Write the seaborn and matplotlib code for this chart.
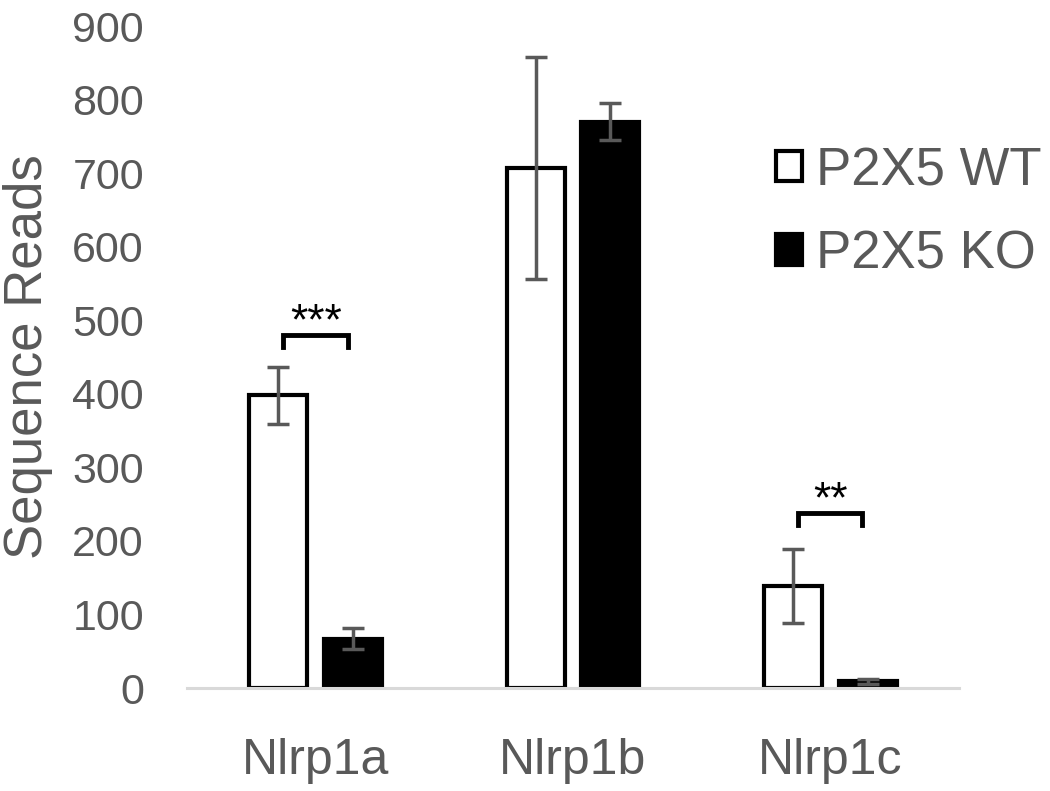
import matplotlib
matplotlib.use("Agg")
import matplotlib.pyplot as plt
import pandas as pd
import seaborn as sns

# Data
genes = ["Nlrp1a", "Nlrp1b", "Nlrp1c"]
groups = ["P2X5 WT", "P2X5 KO"]
wt_reads = [398, 707, 139]
ko_reads = [67, 770, 9]
wt_err = [39, 151, 50]
ko_err = [14, 25, 3]
y_ticks = [0, 100, 200, 300, 400, 500, 600, 700, 800, 900]

# significance brackets: (gene index, bracket height, stars)
sig_gene = [0, 2]
sig_height = [480, 238]
sig_label = ["***", "**"]

TEXT = "#595959"
plt.rcParams["font.family"] = ["Liberation Sans", "DejaVu Sans"]


def build_frame():
    rows = []
    for g, wt, ko in zip(genes, wt_reads, ko_reads):
        rows.append({"gene": g, "group": groups[0], "reads": wt})
        rows.append({"gene": g, "group": groups[1], "reads": ko})
    return pd.DataFrame(rows)


def draw_bar_plot():
    df = build_frame()

    fig = plt.figure(figsize=(10.5, 7.91), dpi=100)
    ax = fig.add_axes([187 / 1050, 1 - 688 / 791, 772 / 1050, 662 / 791])

    sns.barplot(data=df, x="gene", y="reads", hue="group", order=genes,
                hue_order=groups, palette={groups[0]: "white", groups[1]: "black"},
                edgecolor="black", linewidth=3, width=0.58, gap=0.22,
                errorbar=None, legend=False, ax=ax)

    # error bars on each bar
    for container, errs in zip(ax.containers, [wt_err, ko_err]):
        for patch, e in zip(container.patches, errs):
            xc = patch.get_x() + patch.get_width() / 2
            ax.errorbar(xc, patch.get_height(), yerr=e, color=TEXT,
                        elinewidth=2.5, capsize=8, capthick=2.5, zorder=5)

    # significance brackets
    for gi, h, lab in zip(sig_gene, sig_height, sig_label):
        x0, x1 = gi - 0.125, gi + 0.125
        ax.plot([x0, x0, x1, x1], [h - 17, h, h, h - 17], color="black",
                lw=3.5, solid_joinstyle="miter", zorder=6)
        ax.text(gi, h + 1, lab, ha="center", va="baseline",
                fontsize=32, color="black")

    ax.set_xlim(-0.5, 2.5)
    ax.set_ylim(0, 900)
    ax.set_yticks(y_ticks)
    ax.set_xlabel("")
    ax.set_ylabel("Sequence Reads", fontsize=38, color=TEXT, labelpad=14)

    for side in ["top", "right", "left"]:
        ax.spines[side].set_visible(False)
    ax.spines["bottom"].set_color("#d9d9d9")
    ax.spines["bottom"].set_linewidth(2.2)
    ax.tick_params(axis="y", length=0, pad=31, labelsize=31, labelcolor=TEXT)
    ax.tick_params(axis="x", length=0, pad=36, labelsize=36, labelcolor=TEXT)

    # legend
    handles = [plt.Rectangle((0, 0), 1, 1, facecolor=c, edgecolor="black", linewidth=3)
               for c in ["white", "black"]]
    fig.legend(handles, groups, loc="upper left",
               bbox_to_anchor=(776 / 1050, 1 - 146 / 791),
               bbox_transform=fig.transFigure, frameon=False, fontsize=38,
               labelcolor=TEXT, handlelength=0.5, handleheight=0.5,
               handletextpad=0.25, labelspacing=0.63, borderpad=0,
               borderaxespad=0)

    fig.savefig("out.png", dpi=100)
    return fig


if __name__ == "__main__":
    draw_bar_plot()
